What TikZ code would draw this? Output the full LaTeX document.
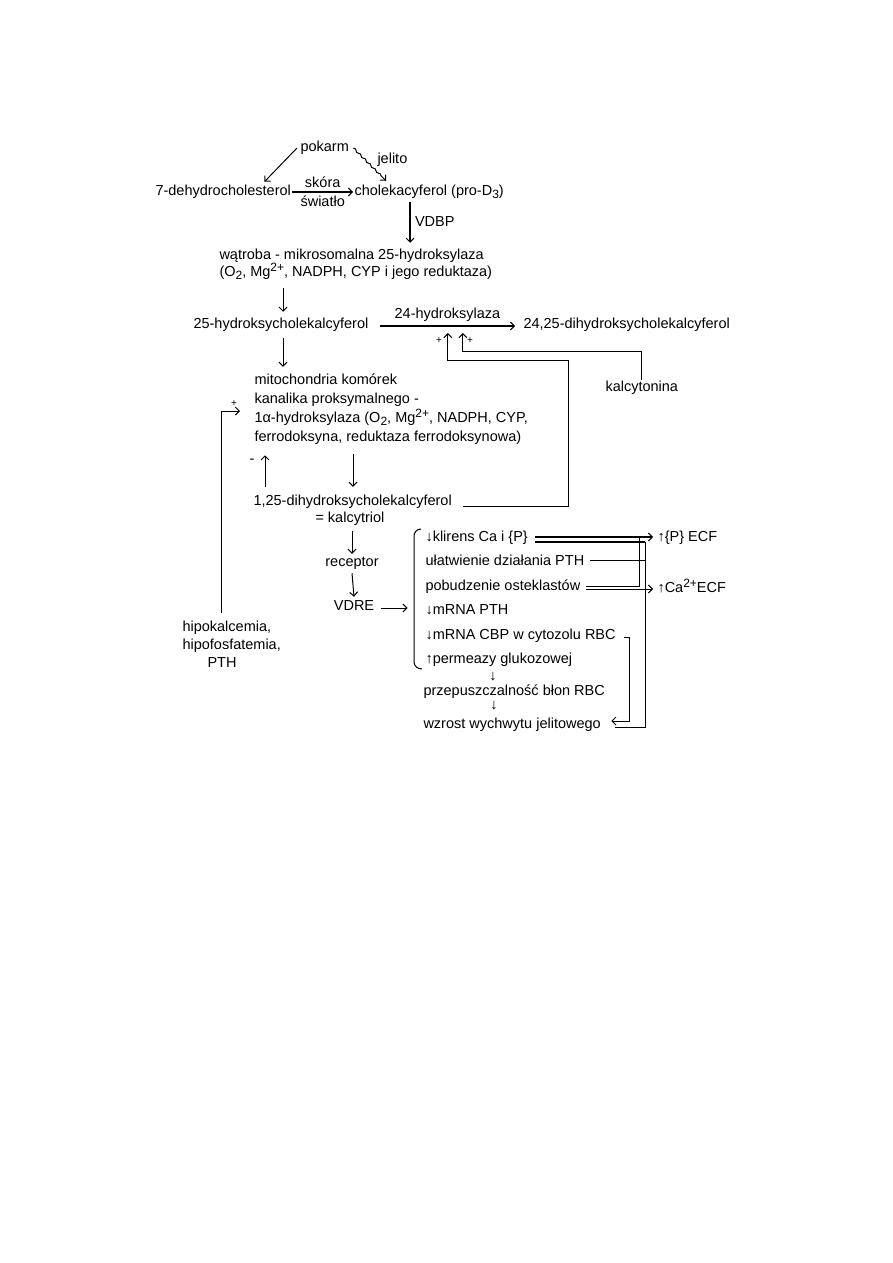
\documentclass[tikz,border=0pt]{standalone}
\usepackage{fontspec}
\setmainfont{Liberation Sans}
\usetikzlibrary{arrows.meta,positioning,calc,decorations.pathmorphing}
\newcommand{\lowidx}[1]{\raisebox{-3pt}{\fontsize{12}{12}\selectfont #1}}
\newcommand{\highidx}[1]{\raisebox{5pt}{\fontsize{12}{12}\selectfont #1}}

\begin{document}
\begin{tikzpicture}[x=1pt,y=-1pt,line width=1pt,
 >={Straight Barb[length=4pt,width=8pt,line width=1pt]},
 txt/.style={inner sep=1pt,text height=10.5pt,text depth=3pt,font=\fontsize{14.5}{18}\selectfont},
 lbl/.style={txt,anchor=west},
 sgn/.style={inner sep=0pt,font=\fontsize{10}{12}\selectfont},
 heavy/.style={line width=2pt}]
\useasboundingbox (0,0) rectangle (893,1263);

\node[lbl] (pokarm) at (299,148) {pokarm};
\node[lbl] (jelito) at (376,160) {jelito};
\node[lbl] (dehydro) at (154,192) {7-dehydrocholesterol};
\node[lbl] (chole) at (353,192) {cholekacyferol (pro-D\lowidx{3})};
\node[lbl] (watroba) at (218,256) {wątroba - mikrosomalna 25-hydroksylaza};
\node[lbl] (watroba2) at (218,273) {(O\lowidx{2}, Mg\highidx{2+}, NADPH, CYP i jego reduktaza)};
\node[lbl] (hydroxy25) at (192,325) {25-hydroksycholekalcyferol};
\node[lbl] (dihydro) at (522,325) {24,25-dihydroksycholekalcyferol};
\node[lbl] (kalcyt) at (604,388) {kalcytonina};
\node[lbl] (mito1) at (253,381) {mitochondria komórek};
\node[lbl] (mito2) at (253,400) {kanalika proksymalnego -};
\node[lbl] (mito3) at (253,419) {1α-hydroksylaza (O\lowidx{2}, Mg\highidx{2+}, NADPH, CYP,};
\node[lbl] (mito4) at (253,438) {ferrodoksyna, reduktaza ferrodoksynowa)};
\node[lbl] (calc1) at (252,502) {1,25-dihydroksycholekalcyferol};
\node[lbl] (calc2) at (314,519) {= kalcytriol};
\node[txt] (receptor) at (352,563) {receptor};
\node[txt] (vdre) at (354,607) {VDRE};
\node[anchor=north west,align=left,inner sep=0pt,font=\fontsize{14.5}{18}\selectfont]
 (hipo) at (182,620) {hipokalcemia,\\hipofosfatemia,\\\hspace*{25pt}PTH};

\node[lbl] (klirens) at (424,538) {↓klirens Ca i \{P\}};
\node[lbl] (ulatw) at (424,562) {ułatwienie działania PTH};
\node[lbl] (pobudz) at (424,587) {pobudzenie osteklastów};
\node[lbl] (mrnapth) at (424,611) {↓mRNA PTH};
\node[lbl] (mrnacbp) at (424,636) {↓mRNA CBP w cytozolu RBC};
\node[lbl] (perm) at (424,660) {↑permeazy glukozowej};
\node[txt] (arrA) at (493,677) {↓};
\node[lbl] (przep) at (422,692) {przepuszczalność błon RBC};
\node[txt] (arrB) at (494,706) {↓};
\node[lbl] (wzrost) at (422,725) {wzrost wychwytu jelitowego};
\node[lbl] (pecf) at (656,538) {↑\{P\} ECF};
\node[lbl] (caecf) at (656,589) {↑Ca\highidx{2+}ECF};

\node[sgn] (plusA) at (439,341) {+};
\node[sgn] (plusB) at (470,341) {+};
\node[sgn] (plusL) at (234,404) {+};
\node[txt] (minus) at (252,460) {-};

\draw[->] ($(pokarm.west)+(-2,0)$) -- ($(dehydro.north east)+(-28,-2)$);
\draw[->,decorate,decoration={snake,amplitude=.8pt,segment length=7pt,post length=5pt}]
 ($(pokarm.east)+(3,0)$) -- ($(chole.north west)+(33,-3)$);
\draw[->,heavy] (dehydro.east) -- node[txt,above=0pt] (skora) {skóra}
 node[txt,below=2pt] (swiatlo) {światło} (chole.west);
\draw[->,heavy] ($(chole.south west)+(57,2)$) coordinate (vd)
 -- node[txt,right=3pt] (vdbp) {VDBP} ($(vd |- watroba.north)+(0,-5)$);
\draw[->] ($(watroba2.south west)+(65,7)$) -- ($(hydroxy25.north west)+(91,-5)$);
\draw[->,heavy] ($(hydroxy25.east)+(10,1)$) coordinate (h24a)
 -- node[txt,above=3pt] (h24lbl) {24-hydroksylaza} ($(dihydro.west)+(-7,1)$);
\draw[->] ($(calc1.east)+(10,4)$) -| (568,360) -| ($(h24a)+(68,7)$);
\draw[->] (kalcyt.north) |- ($(h24a)+(83,25)$) -- ($(h24a)+(83,7)$);
\draw[->] ($(hydroxy25.south west)+(91,5)$) -- ($(mito1.north west)+(30,-6)$);
\draw[->] ($(hipo.north west)+(39,-7)$) |- ($(mito2.west)+(-13,11)$);
\draw[->] ($(calc1.north west)+(13,-7)$) -- ($(mito4.south west)+(12,9)$);
\draw[->] ($(mito4.south west)+(100,8)$) -- ($(calc1.north west)+(101,-7)$);
\draw[->] ($(receptor.north |- calc2.south)+(0,4)$) -- ($(receptor.north)+(0,-1)$);
\draw[->] ($(receptor.south)+(0,2)$) -- ($(vdre.north)+(0,-2)$);
\draw[->] ($(vdre.east)+(5,1)$) -- ($(vdre.east)+(32,1)$);
\draw (421,529) to[out=180,in=90] (414,536) -- (414,662) to[out=-90,in=180] (422,669);

\coordinate (vB) at ($(pecf.west)+(-11,4)$);
\draw[->,heavy] ($(klirens.east)+(6,-1)$) -- ($(pecf.west)+(-3,-1)$);
\draw[heavy] ($(klirens.east)+(6,4)$) -- (vB);
\draw (vB) |- ($(wzrost.east)+(13,2)$);
\draw ($(ulatw.east)+(4,-2)$) -- ($(vB |- ulatw.east)+(0,-2)$);
\draw ($(pobudz.east)+(4,-1)$) -| ($(pecf.west)+(-17,-1)$);
\draw[->] ($(pobudz.east)+(4,2)$) -- ($(caecf.west)+(-3,0)$);
\draw[->] ($(mrnacbp.east)+(7,1)$) -- ++(5,0) |- ($(wzrost.east)+(9,-4)$);
\end{tikzpicture}
\end{document}
